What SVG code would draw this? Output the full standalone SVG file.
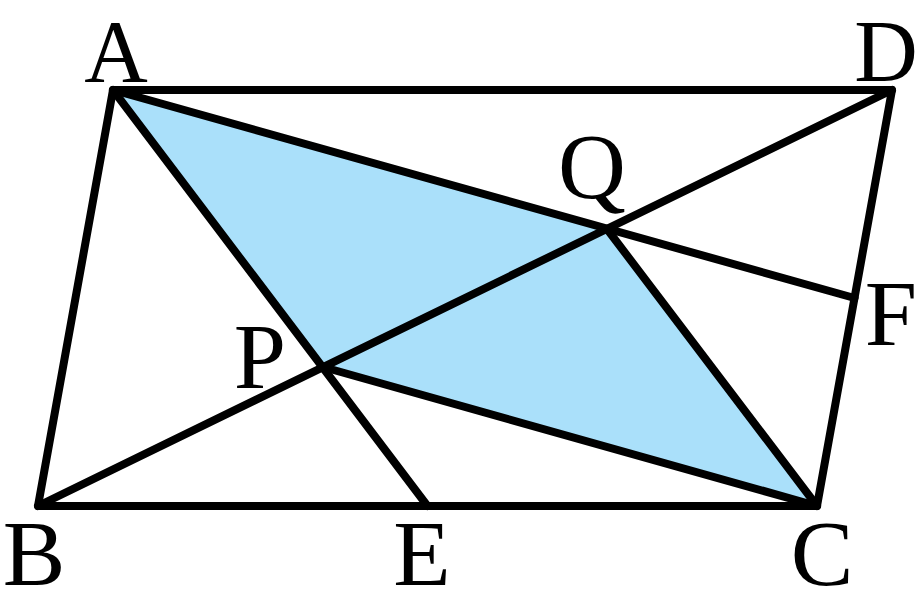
<svg xmlns="http://www.w3.org/2000/svg" width="920" height="613" viewBox="0 0 920 613">
<style>
.ln{stroke:#000;stroke-width:8;stroke-linecap:round;stroke-linejoin:round;fill:none}
.lb{font-family:"Liberation Serif","DejaVu Serif",serif;font-size:94px;fill:#000;text-anchor:middle}
.tp{font-size:88px}
</style>
<rect width="920" height="613" fill="#fff"/>
<g id="shade">
<polygon points="113,90 607,229 817,506 323,367" fill="#aae0fa"/>
</g>
<g id="connectors">
<polygon class="ln" points="113,90 892,90 817,506 38,506"/>
<line class="ln" x1="113" y1="90" x2="427.5" y2="506"/>
<line class="ln" x1="113" y1="90" x2="854.5" y2="298"/>
<line class="ln" x1="38" y1="506" x2="892" y2="90"/>
<line class="ln" x1="323" y1="367" x2="817" y2="506"/>
<line class="ln" x1="607" y1="229" x2="817" y2="506"/>
</g>
<g id="labels">
<g id="nA"><text class="lb tp" x="116" y="81">A</text></g>
<g id="nD"><text class="lb tp" x="886" y="81">D</text></g>
<g id="nQ"><text class="lb" x="592" y="198">Q</text></g>
<g id="nP"><text class="lb" x="260" y="388">P</text></g>
<g id="nF"><text class="lb" x="891" y="345">F</text></g>
<g id="nB"><text class="lb" x="34" y="585">B</text></g>
<g id="nE"><text class="lb" x="422" y="585">E</text></g>
<g id="nC"><text class="lb" x="822" y="585">C</text></g>
</g>
</svg>
